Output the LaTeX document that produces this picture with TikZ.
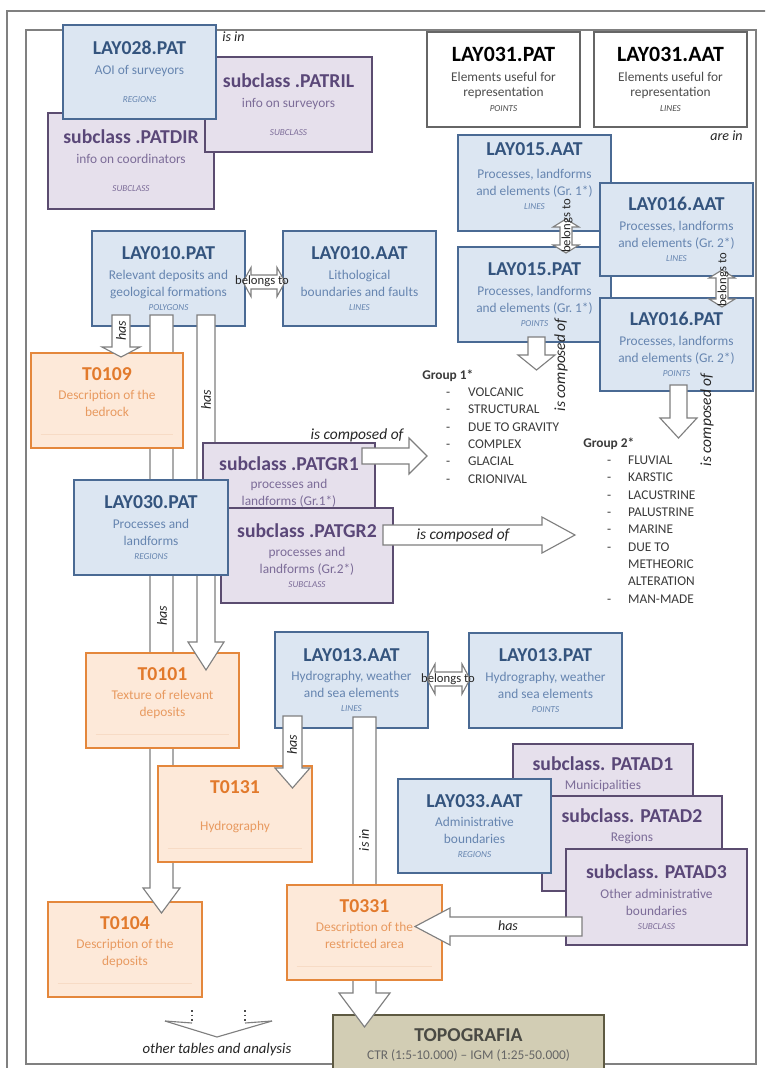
\documentclass[tikz,border=0pt]{standalone}
\usepackage{fontspec}
\setmainfont{Carlito}
\usetikzlibrary{calc}

\definecolor{bluefill}{HTML}{DCE6F2}
\definecolor{blueline}{HTML}{4A6A94}
\definecolor{bluetitle}{HTML}{34547E}
\definecolor{bluetext}{HTML}{6685B0}
\definecolor{purplefill}{HTML}{E6E0EC}
\definecolor{purpleline}{HTML}{5B4C70}
\definecolor{purpletitle}{HTML}{5A4778}
\definecolor{purpletext}{HTML}{7C6C98}
\definecolor{orangefill}{HTML}{FDE9D9}
\definecolor{orangeline}{HTML}{E4873C}
\definecolor{orangetitle}{HTML}{E27A2C}
\definecolor{orangetext}{HTML}{E89A60}
\definecolor{topofill}{HTML}{D2CDB4}
\definecolor{topoline}{HTML}{5E5A42}
\definecolor{topotitle}{HTML}{4A4A44}
\definecolor{arrowline}{HTML}{7F7F7F}
\definecolor{frameline}{HTML}{808080}
\definecolor{listtext}{HTML}{3A3A3A}

\def\pxu{0.025cm}
\def\ttlcol{black}
\def\ttlsize{14}
\newcommand{\boxttl}[1]{{\fontsize{\ttlsize}{16}\selectfont\bfseries\color{\ttlcol}#1}}
\newcommand{\boxtag}[1]{{\fontsize{6.5}{8}\selectfont\itshape #1}}

% block arrow: start, tip, half shaft, half head, head length (px)
\newcommand{\blockarrow}[5]{%
  \coordinate (ba-s) at #1;
  \coordinate (ba-t) at #2;
  \coordinate (ba-b) at ($(ba-t)!{#5*\pxu}!(ba-s)$);
  \draw[blockarrow] ($(ba-s)!{#3*\pxu}!90:(ba-t)$) -- ($(ba-b)!{#3*\pxu}!90:(ba-t)$)
    -- ($(ba-b)!{#4*\pxu}!90:(ba-t)$) -- (ba-t) -- ($(ba-b)!{#4*\pxu}!-90:(ba-t)$)
    -- ($(ba-b)!{#3*\pxu}!-90:(ba-t)$) -- ($(ba-s)!{#3*\pxu}!-90:(ba-t)$) -- cycle;}
% double block arrow, same arguments
\newcommand{\doubleblock}[5]{%
  \coordinate (da-s) at #1;
  \coordinate (da-t) at #2;
  \coordinate (da-b1) at ($(da-s)!{#5*\pxu}!(da-t)$);
  \coordinate (da-b2) at ($(da-t)!{#5*\pxu}!(da-s)$);
  \draw[blockarrow] (da-s) -- ($(da-b1)!{#4*\pxu}!90:(da-t)$) -- ($(da-b1)!{#3*\pxu}!90:(da-t)$)
    -- ($(da-b2)!{#3*\pxu}!90:(da-t)$) -- ($(da-b2)!{#4*\pxu}!90:(da-t)$) -- (da-t)
    -- ($(da-b2)!{#4*\pxu}!-90:(da-t)$) -- ($(da-b2)!{#3*\pxu}!-90:(da-t)$)
    -- ($(da-b1)!{#3*\pxu}!-90:(da-t)$) -- ($(da-b1)!{#4*\pxu}!-90:(da-t)$) -- cycle;}

\tikzset{
  box/.style={draw, line width=1.2pt, anchor=north west, align=center, inner sep=2pt, outer sep=0pt,
    minimum width=153*\pxu, minimum height=95*\pxu, font=\fontsize{9.5}{12}\selectfont},
  bluebox/.style={box, fill=bluefill, draw=blueline, text=bluetext, execute at begin node={\def\ttlcol{bluetitle}}},
  purplebox/.style={box, fill=purplefill, draw=purpleline, text=purpletext, execute at begin node={\def\ttlcol{purpletitle}}},
  orangebox/.style={box, fill=orangefill, draw=orangeline, text=orangetext, execute at begin node={\def\ttlcol{orangetitle}},
    path picture={\draw[orangeline!30, line width=0.6pt] ([xshift=7pt,yshift=10pt]path picture bounding box.south west)
      -- ([xshift=-7pt,yshift=10pt]path picture bounding box.south east);}},
  whitebox/.style={box, fill=white, draw=black!60, text=black!70, font=\fontsize{9.5}{10.7}\selectfont,
    execute at begin node={\def\ttlcol{black}\def\ttlsize{15.5}}},
  topobox/.style={box, fill=topofill, draw=topoline, line width=1.5pt, text=black!60, minimum width=271*\pxu, minimum height=60*\pxu},
  blockarrow/.style={draw=arrowline, fill=white, line width=0.8pt, line join=miter},
  note/.style={font=\fontsize{11}{13}\selectfont\itshape, text=black!85, inner sep=0pt},
  belong/.style={font=\fontsize{9}{11}\selectfont, text=black!85, inner sep=0pt},
  grouplist/.style={font=\fontsize{9.5}{12.3}\selectfont, text=listtext, inner sep=0pt, anchor=north west}
}

\begin{document}
\begin{tikzpicture}[x=0.025cm, y=-0.025cm]
\useasboundingbox (0,0) rectangle (765,1068);
\clip (0,0) rectangle (765,1068);
\fill[white] (0,0) rectangle (765,1068);

% frames
\draw[frameline, line width=0.8pt] (7,1075) -- (7,11) -- (770,11);
\draw[frameline, line width=1.2pt] (26,30) rectangle (756,1064);

% surveyors
\node[purplebox, minimum width=166*\pxu, minimum height=96*\pxu] (patdir) at (48,113) {\boxttl{subclass .PATDIR}\\[2pt] info on coordinators\\[8pt]\boxtag{SUBCLASS}};
\node[purplebox, minimum width=167*\pxu] (patril) at (205,57) {\boxttl{subclass .PATRIL}\\[2pt] info on surveyors\\[8pt]\boxtag{SUBCLASS}};
\node[bluebox, minimum height=94*\pxu] (lay028) at (63,25) {\boxttl{LAY028.PAT}\\[2pt] AOI of surveyors\\[8pt]\boxtag{REGIONS}};
\node[note, font=\fontsize{10}{12}\selectfont\itshape, anchor=west] (isin1) at (222,37) {is in};

% representation
\node[whitebox] (lay031p) at (427,32) {\boxttl{LAY031.PAT}\\[3pt] Elements useful for\\ representation\\[0pt]\boxtag{POINTS}};
\node[whitebox] (lay031a) at (594,32) {\boxttl{LAY031.AAT}\\[3pt] Elements useful for\\ representation\\[0pt]\boxtag{LINES}};
\node[note, font=\fontsize{10}{12}\selectfont\itshape, anchor=east] (arein) at (743,136) {are in};

% processes and landforms
\node[bluebox, minimum height=96*\pxu] (lay015a) at (458,135) {\boxttl{LAY015.AAT}\\[4pt] Processes, landforms\\ and elements (Gr.\ 1*)\\[-2pt]\boxtag{LINES}\\[-2pt]\mbox{}};
\node[bluebox] (lay015p) at (458,247) {\boxttl{LAY015.PAT}\\[2pt] Processes, landforms\\ and elements (Gr.\ 1*)\\[-2pt]\boxtag{POINTS}};
\node[bluebox, minimum height=93*\pxu] (lay016a) at (600,183) {\boxttl{LAY016.AAT}\\[2pt] Processes, landforms\\ and elements (Gr.\ 2*)\\[-2pt]\boxtag{LINES}};
\node[bluebox, minimum height=93*\pxu] (lay016p) at (600,298) {\boxttl{LAY016.PAT}\\[2pt] Processes, landforms\\ and elements (Gr.\ 2*)\\[-2pt]\boxtag{POINTS}};
\doubleblock{($(lay015a.south)+(31.5,-12)$)}{($(lay015p.north)+(31.5,6)$)}{6}{13}{8}
\node[belong, rotate=90] (bel2) at (567,226) {belongs to};
\doubleblock{($(lay016a.south)+(45.5,-6)$)}{($(lay016p.north)+(45.5,9)$)}{6}{13}{8}
\node[belong, rotate=90] (bel3) at (723,280) {belongs to};

\blockarrow{($(lay015p.south west)+(78.5,-5)$)}{($(lay015p.south west)+(78.5,28)$)}{8.5}{18.5}{15}
\node[note, rotate=90] (comp3) at (561,365) {is composed of};
\blockarrow{($(lay016p.south west)+(78.5,-6)$)}{($(lay016p.south west)+(78.5,47)$)}{8.5}{18.5}{20}
\node[note, rotate=90] (comp4) at (707,420) {is composed of};

\node[grouplist] (group1) at (422,367) {\begin{tabular}{@{}p{17pt}@{}p{15.6pt}@{}l@{}}
\multicolumn{3}{@{}l@{}}{\bfseries Group 1*}\\
& - & VOLCANIC\\ & - & STRUCTURAL\\ & - & DUE TO GRAVITY\\
& - & COMPLEX\\ & - & GLACIAL\\ & - & CRIONIVAL
\end{tabular}};
\node[grouplist] (group2) at (583,435) {\begin{tabular}{@{}p{17pt}@{}p{14.9pt}@{}l@{}}
\multicolumn{3}{@{}l@{}}{\bfseries Group 2*}\\
& - & FLUVIAL\\ & - & KARSTIC\\ & - & LACUSTRINE\\ & - & PALUSTRINE\\
& - & MARINE\\ & - & DUE TO\\ & & METHEORIC\\ & & ALTERATION\\ & - & MAN-MADE
\end{tabular}};

% deposits
\node[bluebox] (lay010p) at (92,231) {\boxttl{LAY010.PAT}\\[2pt] Relevant deposits and\\ geological formations\\[-2pt]\boxtag{POLYGONS}};
\node[bluebox] (lay010a) at (283,231) {\boxttl{LAY010.AAT}\\[2pt] Lithological\\ boundaries and faults\\[-2pt]\boxtag{LINES}};
\doubleblock{($(lay010p.east)+(-2,3.5)$)}{($(lay010a.west)+(2,3.5)$)}{7}{14.5}{8}
\node[belong] (bel1) at (262,281) {belongs to};

\node[orangebox, minimum width=154*\pxu] (t0104) at (48,902) {\boxttl{T0104}\\[2pt] Description of the\\ deposits\\ \mbox{}};
\node[topobox] (topo) at (333,1015) {{\fontsize{14}{16}\selectfont\bfseries\color{topotitle}TOPOGRAFIA}\\[1pt] CTR (1:5-10.000) – IGM (1:25-50.000)};

\blockarrow{($(lay010p.south west)+(69.5,-11)$)}{($(t0104.north west)+(113.5,11)$)}{11.5}{18.5}{25}
\node[orangebox] (t0101) at (86,653) {\boxttl{T0101}\\[2pt] Texture of relevant\\ deposits\\ \mbox{}};
\blockarrow{($(lay010p.south west)+(114,-11)$)}{($(t0101.north west)+(120,17)$)}{9}{18}{28}
\node[orangebox, minimum width=152*\pxu] (t0109) at (31,353) {\boxttl{T0109}\\[2pt] Description of the\\ bedrock\\ \mbox{}};
\blockarrow{($(lay010p.south west)+(29,-11)$)}{($(t0109.north west)+(90,4)$)}{9}{19}{10}
\node[note, font=\fontsize{10}{12}\selectfont\itshape, rotate=90] (has1) at (121,331) {has};
\node[note, font=\fontsize{10}{12}\selectfont\itshape, rotate=90] (has2) at (162,616) {has};
\node[note, font=\fontsize{10}{12}\selectfont\itshape, rotate=90] (has3) at (206,400) {has};

% subclasses of processes
\node[purplebox, minimum width=172*\pxu] (patgr1) at (203,443) {\boxttl{subclass .PATGR1}\\[1pt] processes and\\ landforms (Gr.1*)\\[1pt]\mbox{}};
\node[purplebox, minimum width=172*\pxu] (patgr2) at (221,508) {\boxttl{subclass .PATGR2}\\[2pt] processes and\\ landforms (Gr.2*)\\[-2pt]\boxtag{SUBCLASS}};
\node[bluebox, minimum width=154*\pxu] (lay030) at (74,480) {\boxttl{LAY030.PAT}\\[2pt] Processes and\\ landforms\\[-2pt]\boxtag{REGIONS}};
\blockarrow{($(patgr1.north east)+(-13,13)$)}{($(patgr1.north east)+(52,13)$)}{8}{18}{18}
\node[note] (comp1) at (357,435) {is composed of};
\blockarrow{($(patgr2.north east)+(-10,27)$)}{($(patgr2.north east)+(182,27)$)}{10}{18}{33}
\node[note] (comp2) at (463,535) {is composed of};

% hydrography
\node[orangebox, minimum width=154*\pxu, minimum height=96*\pxu] (t0131) at (158,766) {\boxttl{T0131}\\[2pt] \mbox{}\\ Hydrography\\ \mbox{}};
\node[bluebox, minimum height=96*\pxu] (lay013a) at (275,632) {\boxttl{LAY013.AAT}\\[2pt] Hydrography, weather\\ and sea elements\\[-2pt]\boxtag{LINES}};
\node[bluebox] (lay013p) at (469,633) {\boxttl{LAY013.PAT}\\[2pt] Hydrography, weather\\ and sea elements\\[-2pt]\boxtag{POINTS}};
\doubleblock{($(lay013a.east)+(-1,-1)$)}{($(lay013p.west)+(1,-1.5)$)}{7}{15}{8}
\node[belong] (bel4) at (448,679) {belongs to};
\blockarrow{($(lay013a.south west)+(17.5,-12)$)}{($(t0131.north west)+(134.5,22)$)}{9.5}{17.5}{20}
\node[note, font=\fontsize{10}{12}\selectfont\itshape, rotate=90] (has4) at (292,745) {has};
\blockarrow{($(lay013a.south west)+(89.5,-11)$)}{($(topo.north west)+(31.5,12)$)}{11.5}{25.5}{34}
\node[note, font=\fontsize{10}{12}\selectfont\itshape, rotate=90] (isin2) at (364,840) {is in};
\node[orangebox, minimum width=155*\pxu] (t0331) at (287,885) {\boxttl{T0331}\\[2pt] Description of the\\ restricted area\\ \mbox{}};

% administrative boundaries
\node[purplebox, minimum width=180*\pxu] (patad1) at (513,744) {\boxttl{subclass. PATAD1}\\[1pt] Municipalities\\[14pt]\mbox{}};
\node[purplebox, minimum width=180*\pxu] (patad2) at (542,796) {\boxttl{subclass. PATAD2}\\[1pt] Regions\\[14pt]\mbox{}};
\node[bluebox, minimum height=94*\pxu] (lay033) at (398,779) {\boxttl{LAY033.AAT}\\[2pt] Administrative\\ boundaries\\[-2pt]\boxtag{REGIONS}};
\node[purplebox, minimum width=181*\pxu, minimum height=96*\pxu] (patad3) at (566,849) {\boxttl{subclass. PATAD3}\\[2pt] Other administrative\\ boundaries\\[-2pt]\boxtag{SUBCLASS}};
\blockarrow{($(patad3.south west)+(16,-18.5)$)}{($(t0331.north east)+(-27,41.5)$)}{9.5}{18.5}{35}
\node[note, font=\fontsize{10}{12}\selectfont\itshape] (has5) at (508,926) {has};

% other tables
\node[note, font=\fontsize{10.5}{12}\selectfont\itshape] (other) at (217,1050) {other tables and analysis};
\draw[arrowline, line width=0.8pt] (165,1021) -- (217,1037) -- (272,1021);
\draw[arrowline, line width=0.8pt] (165,1021) -- (192,1023) (245,1023) -- (272,1021);
\draw[black!70, dotted, line width=1.2pt] (192,1010) -- (192,1021) (245,1010) -- (245,1021);
\end{tikzpicture}
\end{document}
